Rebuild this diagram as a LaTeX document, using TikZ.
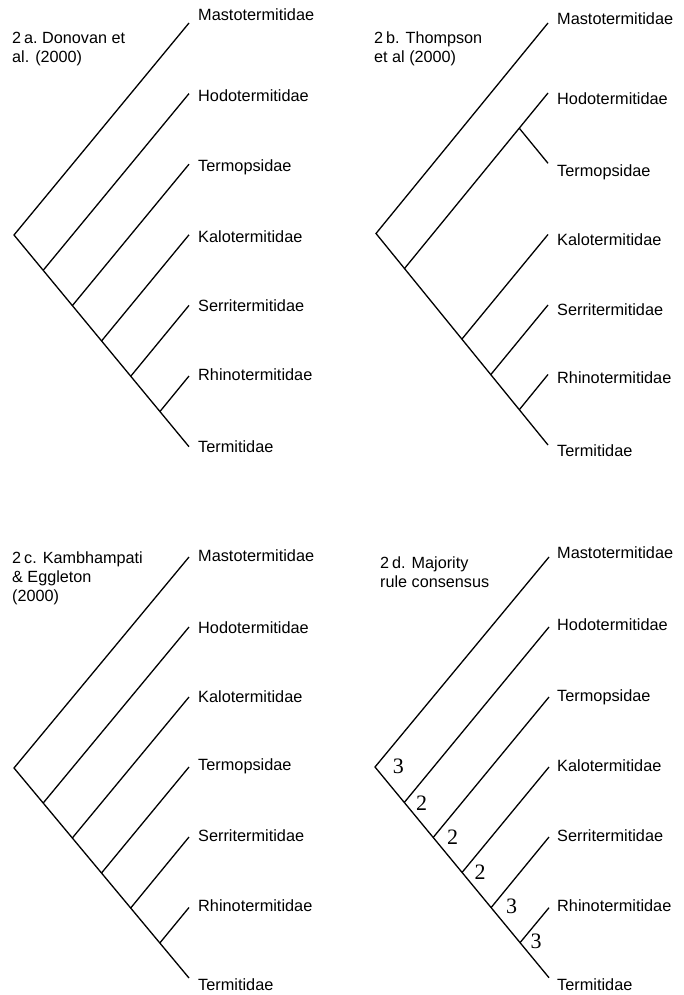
\documentclass[tikz,border=0pt]{standalone}
\usepackage{fontspec}
\setmainfont{Liberation Sans}
\newfontfamily\numfont{Liberation Serif}
\begin{document}
\begin{tikzpicture}[x=1pt,y=-1pt,
  branch/.style={line width=1.3pt,line cap=butt,line join=miter},
  taxon/.style={anchor=base west,inner sep=0pt,font=\fontsize{16.3}{19}\selectfont},
  paneltitle/.style={anchor=north west,inner sep=0pt,align=left,font=\fontsize{16.2}{19}\selectfont},
  support/.style={inner sep=0pt,font=\numfont\fontsize{22}{24}\selectfont}]
\useasboundingbox (0,0) rectangle (684,995);

% ---------------- Panel a ----------------
\node[paneltitle] (ta) at (12,31.7) {2\kern3pt a.\ Donovan et\\al. (2000)};
\coordinate (a0) at (14,235);
\coordinate (a1) at (43.2,270.3);
\coordinate (a2) at (72.3,305.7);
\coordinate (a3) at (101.5,341);
\coordinate (a4) at (130.7,376.3);
\coordinate (a5) at (159.8,411.7);
\coordinate (aL1) at (189,23);
\coordinate (aL2) at (189,93.6);
\coordinate (aL3) at (189,164.2);
\coordinate (aL4) at (189,234.8);
\coordinate (aL5) at (189,305.4);
\coordinate (aL6) at (189,376);
\coordinate (aL7) at (189,446.7);
\draw[branch] (aL1) -- (a0) -- (aL7);
\draw[branch] (a1) -- (aL2);
\draw[branch] (a2) -- (aL3);
\draw[branch] (a3) -- (aL4);
\draw[branch] (a4) -- (aL5);
\draw[branch] (a5) -- (aL6);
\node[taxon] (aT1) at (198,21) {Mastotermitidae};
\node[taxon] (aT2) at (198,101.7) {Hodotermitidae};
\node[taxon] (aT3) at (198,171.7) {Termopsidae};
\node[taxon] (aT4) at (198,242) {Kalotermitidae};
\node[taxon] (aT5) at (198,311.7) {Serritermitidae};
\node[taxon] (aT6) at (198,380) {Rhinotermitidae};
\node[taxon] (aT7) at (198,452.7) {Termitidae};

% ---------------- Panel b ----------------
\node[paneltitle] (tb) at (374,31.7) {2\kern3pt b. Thompson\\et al (2000)};
\coordinate (b0) at (376,233.5);
\coordinate (b1) at (404.5,268.5);
\coordinate (bH) at (519.5,128.5);
\coordinate (b3) at (461.8,339.2);
\coordinate (b4) at (490.7,374.7);
\coordinate (b5) at (519.4,409.6);
\coordinate (bL1) at (548,23);
\coordinate (bL2) at (548,93);
\coordinate (bL3) at (548,163.3);
\coordinate (bL4) at (548,234.5);
\coordinate (bL5) at (548,305);
\coordinate (bL6) at (548,374.5);
\coordinate (bL7) at (548,445);
\draw[branch] (bL1) -- (b0) -- (bL7);
\draw[branch] (b1) -- (bL2);
\draw[branch] (bH) -- (bL3);
\draw[branch] (b3) -- (bL4);
\draw[branch] (b4) -- (bL5);
\draw[branch] (b5) -- (bL6);
\node[taxon] (bT1) at (557,25) {Mastotermitidae};
\node[taxon] (bT2) at (557,105) {Hodotermitidae};
\node[taxon] (bT3) at (557,176.7) {Termopsidae};
\node[taxon] (bT4) at (557,245) {Kalotermitidae};
\node[taxon] (bT5) at (557,315.7) {Serritermitidae};
\node[taxon] (bT6) at (557,383.3) {Rhinotermitidae};
\node[taxon] (bT7) at (557,456.7) {Termitidae};

% ---------------- Panel c ----------------
\node[paneltitle] (tc) at (12,551.7) {2\kern3pt c. Kambhampati\\\& Eggleton\\(2000)};
\coordinate (c0) at (14,768);
\coordinate (c1) at (43.2,803);
\coordinate (c2) at (72.3,838);
\coordinate (c3) at (101.5,873);
\coordinate (c4) at (130.7,908);
\coordinate (c5) at (159.8,943);
\coordinate (cL1) at (189,557);
\coordinate (cL2) at (189,627);
\coordinate (cL3) at (189,697);
\coordinate (cL4) at (189,767);
\coordinate (cL5) at (189,837);
\coordinate (cL6) at (189,907.5);
\coordinate (cL7) at (189,978);
\draw[branch] (cL1) -- (c0) -- (cL7);
\draw[branch] (c1) -- (cL2);
\draw[branch] (c2) -- (cL3);
\draw[branch] (c3) -- (cL4);
\draw[branch] (c4) -- (cL5);
\draw[branch] (c5) -- (cL6);
\node[taxon] (cT1) at (198,561.7) {Mastotermitidae};
\node[taxon] (cT2) at (198,633.3) {Hodotermitidae};
\node[taxon] (cT3) at (198,702.3) {Kalotermitidae};
\node[taxon] (cT4) at (198,770) {Termopsidae};
\node[taxon] (cT5) at (198,841.7) {Serritermitidae};
\node[taxon] (cT6) at (198,911.7) {Rhinotermitidae};
\node[taxon] (cT7) at (198,990) {Termitidae};

% ---------------- Panel d ----------------
\node[paneltitle] (td) at (380,556.7) {2\kern3pt d. Majority\\rule consensus};
\coordinate (d0) at (375,767);
\coordinate (d1) at (404.5,802.2);
\coordinate (d2) at (433.3,837.3);
\coordinate (d3) at (462,872.5);
\coordinate (d4) at (491,907.7);
\coordinate (d5) at (520,942.7);
\coordinate (dL1) at (549,557);
\coordinate (dL2) at (549,627);
\coordinate (dL3) at (549,697);
\coordinate (dL4) at (549,767);
\coordinate (dL5) at (549,837);
\coordinate (dL6) at (549,907.7);
\coordinate (dL7) at (549,977.7);
\draw[branch] (dL1) -- (d0) -- (dL7);
\draw[branch] (d1) -- (dL2);
\draw[branch] (d2) -- (dL3);
\draw[branch] (d3) -- (dL4);
\draw[branch] (d4) -- (dL5);
\draw[branch] (d5) -- (dL6);
\node[taxon] (dT1) at (557,558.3) {Mastotermitidae};
\node[taxon] (dT2) at (557,630) {Hodotermitidae};
\node[taxon] (dT3) at (557,701) {Termopsidae};
\node[taxon] (dT4) at (557,771.7) {Kalotermitidae};
\node[taxon] (dT5) at (557,841) {Serritermitidae};
\node[taxon] (dT6) at (557,911.7) {Rhinotermitidae};
\node[taxon] (dT7) at (557,990) {Termitidae};
\node[support] (s0) at (398.3,766) {3};
\node[support] (s1) at (421.7,803.3) {2};
\node[support] (s2) at (452.7,837.3) {2};
\node[support] (s3) at (480,872.7) {2};
\node[support] (s4) at (511.7,906.7) {3};
\node[support] (s5) at (536,941.7) {3};
\end{tikzpicture}
\end{document}
